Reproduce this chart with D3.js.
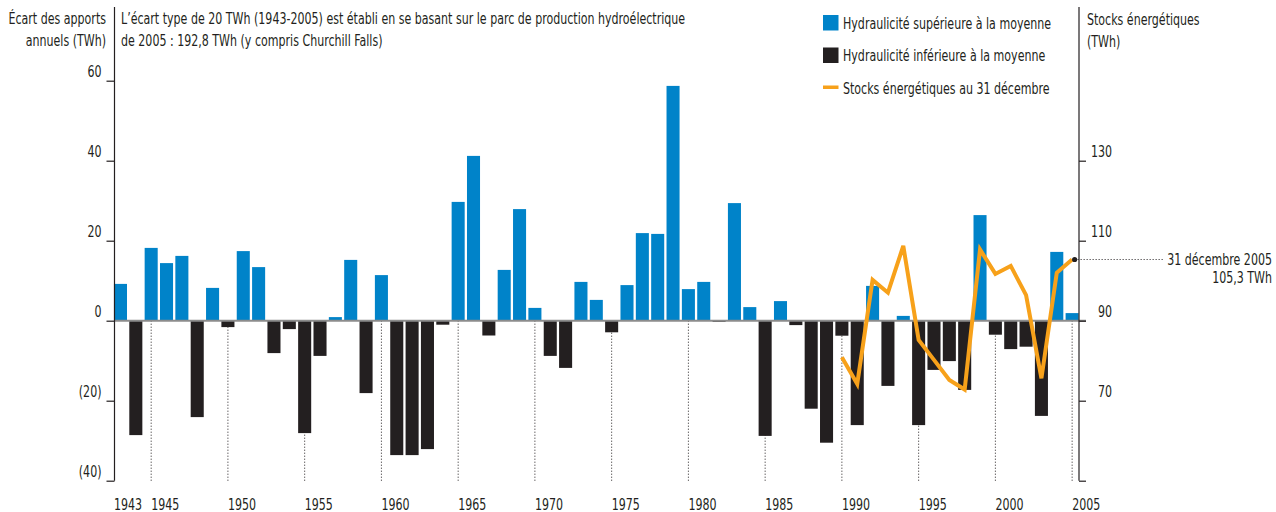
<!DOCTYPE html>
<html>
<head>
<meta charset="utf-8">
<script src="https://cdn.jsdelivr.net/npm/d3@7/dist/d3.min.js"></script>
<style>
  html, body { margin: 0; padding: 0; background: #fff; }
  svg { display: block; }
  text { font-family: "Liberation Sans Narrow", "DejaVu Sans Condensed", "Arial Narrow", sans-serif; fill: #231F20; font-size: 15px; }
</style>
</head>
<body>
<svg id="chart" width="1276" height="512"></svg>
<script>
// ---- data ----
const years = d3.range(1943, 2006);
const deviation = [
  9.2, -28.6, 18.2, 14.4, 16.2, -24.1, 8.2, -1.6, 17.4, 13.4,
  -8.1, -2.1, -28.1, -8.8, 0.9, 15.2, -18.1, 11.4, -33.6, -33.6,
  -32.1, -1.0, 29.7, 41.2, -3.7, 12.7, 27.9, 3.2, -8.8, -11.8,
  9.7, 5.2, -2.9, 8.9, 21.9, 21.7, 58.7, 7.9, 9.7, -0.3,
  29.4, 3.4, -28.8, 4.9, -1.1, -22.0, -30.5, -3.75, -26.1, 8.7,
  -16.3, 1.2, -26.1, -12.3, -10.1, -17.3, 26.4, -3.5, -7.1, -6.5,
  -23.8, 17.2, 1.9
];
const stockYears = d3.range(1990, 2006);
const stocks = [80.85, 74.2, 100.2, 97.0, 108.7, 85.2, 80.2, 75.2, 72.8, 107.8, 101.7, 103.7, 96.4, 75.6, 102.0, 105.3];
const leftTicks = [-40, -20, 0, 20, 40, 60];
const rightTicks = [70, 90, 110, 130];
const yearLabels = [1943, 1945, 1950, 1955, 1960, 1965, 1970, 1975, 1980, 1985, 1990, 1995, 2000, 2005];
const dottedYears = [1945, 1950, 1955, 1960, 1965, 1970, 1975, 1980, 1985, 1990, 1995, 2000, 2005];
const legendLabels = ["Hydraulicité supérieure à la moyenne", "Hydraulicité inférieure à la moyenne", "Stocks énergétiques au 31 décembre"];
const legendTypes = ["rect", "rect", "line"];

const BLUE = "#0083C9", BLACK = "#231F20", ORANGE = "#F7A11A";
const legendColors = [BLUE, BLACK, ORANGE];
const SX = 0.82; // horizontal condensing to mimic a condensed face

const svg = d3.select("#chart");

function txt(parent, x, y, s, anchor) {
  return parent.append("text")
    .attr("transform", `translate(${x},${y}) scale(${SX},1)`)
    .attr("text-anchor", anchor || "start")
    .text(s);
}

const x = d3.scaleBand().domain(years).range([112.8, 1079.8]).paddingInner(0.15).paddingOuter(0.075);
const y = d3.scaleLinear().domain([-40, 60]).range([480.7, 80.7]);
const yR = d3.scaleLinear().domain([50, 150]).range([480.7, 80.7]);
const cx = yr => x(yr) + x.bandwidth() / 2;

const leftX = 114.5, rightX = 1079;

// dotted guide lines (behind bars)
svg.append("g").selectAll("line").data(dottedYears).join("line")
  .attr("x1", d => cx(d)).attr("x2", d => cx(d))
  .attr("y1", y(0)).attr("y2", y(-40))
  .attr("stroke", BLACK).attr("stroke-width", 1).attr("stroke-dasharray", "1,2");

// bars
svg.append("g").selectAll("rect").data(years).join("rect")
  .attr("x", d => x(d))
  .attr("width", x.bandwidth())
  .attr("y", (d, i) => y(Math.max(0, deviation[i])))
  .attr("height", (d, i) => Math.abs(y(deviation[i]) - y(0)))
  .attr("fill", (d, i) => deviation[i] >= 0 ? BLUE : BLACK);

// zero line
svg.append("line")
  .attr("x1", leftX).attr("x2", rightX + 7)
  .attr("y1", y(0)).attr("y2", y(0))
  .attr("stroke", "#8C8C8C").attr("stroke-width", 2);

// left axis
const axL = svg.append("g").attr("transform", `translate(${leftX},0)`)
  .call(d3.axisLeft(y).tickValues(leftTicks).tickSize(8).tickSizeOuter(0)
    .tickFormat(d => d < 0 ? `(${-d})` : `${d}`));
axL.select(".domain").remove();
axL.selectAll(".tick line").attr("stroke", BLACK).attr("stroke-width", 1.2);
axL.selectAll(".tick text").attr("x", null).attr("dy", null).attr("font-size", null).attr("font-family", null)
  .attr("text-anchor", "end").attr("transform", `translate(-13,-4) scale(${SX},1)`).style("fill", BLACK);
svg.append("line").attr("x1", leftX).attr("x2", leftX).attr("y1", 7).attr("y2", y(-40))
  .attr("stroke", BLACK).attr("stroke-width", 1.2);

// right axis
const axR = svg.append("g").attr("transform", `translate(${rightX},0)`)
  .call(d3.axisRight(yR).tickValues([50].concat(rightTicks)).tickSize(7).tickSizeOuter(0)
    .tickFormat(d => d === 50 ? "" : `${d}`));
axR.select(".domain").remove();
axR.selectAll(".tick line").attr("stroke", BLACK).attr("stroke-width", 1.2);
axR.selectAll(".tick text").attr("x", null).attr("dy", null).attr("font-size", null).attr("font-family", null)
  .attr("text-anchor", "end").attr("transform", `translate(33,-4.5) scale(${SX},1)`).style("fill", BLACK);
svg.append("line").attr("x1", rightX).attr("x2", rightX).attr("y1", 7).attr("y2", yR(50))
  .attr("stroke", BLACK).attr("stroke-width", 1.2);

// stock line
const line = d3.line().x((d, i) => cx(stockYears[i])).y(d => yR(d));
svg.append("path").datum(stocks).attr("d", line)
  .attr("fill", "none").attr("stroke", ORANGE).attr("stroke-width", 4).attr("stroke-linejoin", "miter");

// end annotation
const lastX = cx(2005) + 2.5, lastY = yR(stocks[stocks.length - 1]);
svg.append("line").attr("x1", lastX).attr("x2", 1163).attr("y1", lastY).attr("y2", lastY)
  .attr("stroke", BLACK).attr("stroke-width", 1).attr("stroke-dasharray", "1,2");
svg.append("circle").attr("cx", lastX).attr("cy", lastY).attr("r", 2.6).attr("fill", BLACK);
txt(svg, 1272, lastY + 5.5, "31 décembre 2005", "end");
txt(svg, 1272, lastY + 23.5, "105,3 TWh", "end");

// x labels
const xl = svg.append("g");
yearLabels.forEach(d => txt(xl, d === 1943 ? x(d) : cx(d), 510, d, "start"));

// headings
txt(svg, 106, 24, "Écart des apports", "end");
txt(svg, 106, 46, "annuels (TWh)", "end");
txt(svg, 121, 24, "L’écart type de 20 TWh (1943-2005) est établi en se basant sur le parc de production hydroélectrique", "start");
txt(svg, 121, 46, "de 2005 : 192,8 TWh (y compris Churchill Falls)", "start");
txt(svg, 1087, 25, "Stocks énergétiques", "start");
txt(svg, 1087, 47, "(TWh)", "start");

// legend
const lgY = [15, 47.5, 80];
legendLabels.forEach((lab, i) => {
  const g = svg.append("g").attr("transform", `translate(823,${lgY[i]})`);
  if (legendTypes[i] === "rect") {
    g.append("rect").attr("width", 15.5).attr("height", 15.5).attr("fill", legendColors[i]);
  } else {
    g.append("rect").attr("y", 5.5).attr("width", 15.5).attr("height", 3.5).attr("fill", legendColors[i]);
  }
  txt(g, 20, 13.5, lab, "start");
});
</script>
</body>
</html>
